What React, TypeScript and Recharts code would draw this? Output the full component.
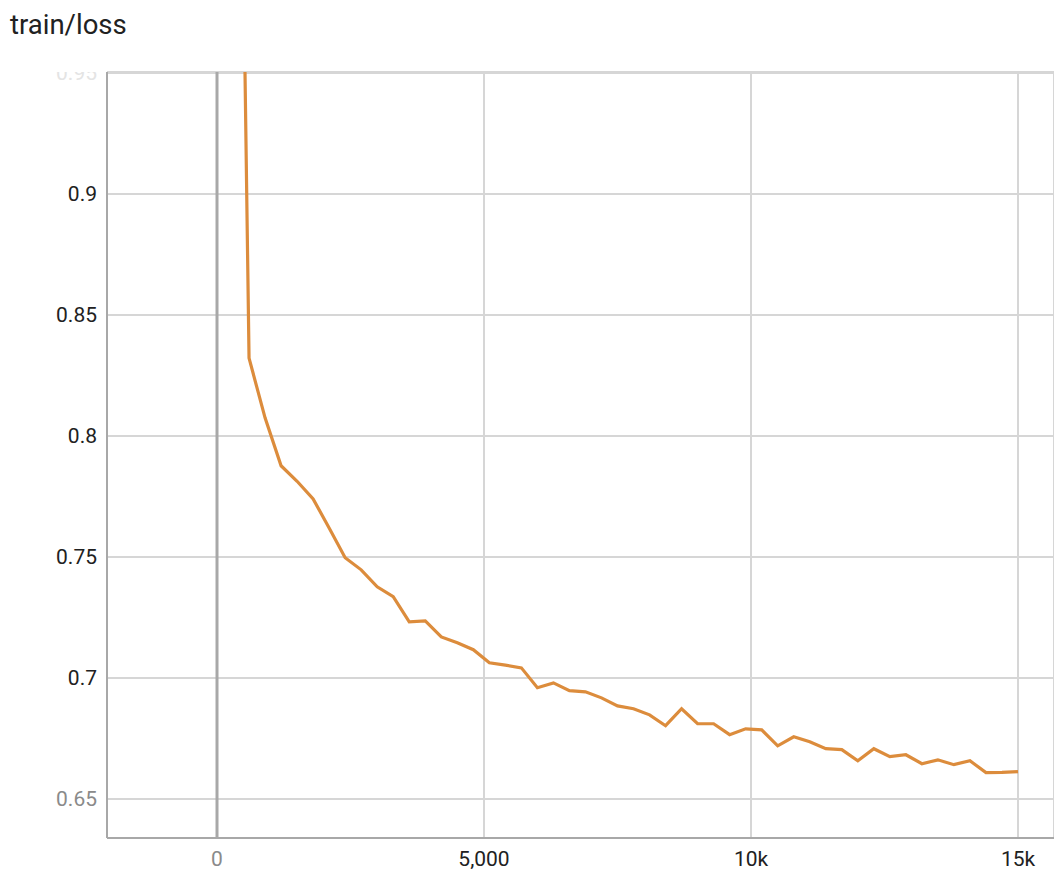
import { LineChart, Line, XAxis, YAxis, CartesianGrid, ReferenceLine } from 'recharts';

// logged every 300 steps
const steps = [
  300, 600, 900, 1200, 1500, 1800, 2100, 2400, 2700, 3000,
  3300, 3600, 3900, 4200, 4500, 4800, 5100, 5400, 5700, 6000,
  6300, 6600, 6900, 7200, 7500, 7800, 8100, 8400, 8700, 9000,
  9300, 9600, 9900, 10200, 10500, 10800, 11100, 11400, 11700, 12000,
  12300, 12600, 12900, 13200, 13500, 13800, 14100, 14400, 14700, 15000,
];

const loss = [
  1.3, 0.8322, 0.8075, 0.7877, 0.7813, 0.774, 0.762, 0.7497, 0.7447, 0.7377,
  0.7336, 0.7232, 0.7236, 0.717, 0.7146, 0.7117, 0.7063, 0.7053, 0.7042, 0.696,
  0.698, 0.6948, 0.6943, 0.6918, 0.6885, 0.6873, 0.6848, 0.6803, 0.6873, 0.6811,
  0.6811, 0.6766, 0.679, 0.6786, 0.672, 0.6757, 0.6737, 0.6708, 0.6704, 0.6658,
  0.6708, 0.6675, 0.6683, 0.6646, 0.6662, 0.6642, 0.6658, 0.6609, 0.661, 0.6613,
];

const yTicks = [0.65, 0.7, 0.75, 0.8, 0.85, 0.9, 0.95];
const xTicks = [0, 5000, 10000, 15000];
const xLabels = ['0', '5,000', '10k', '15k'];

const data = steps.map((step, i) => ({ step, loss: loss[i] }));

const FONT = 'Roboto, "Noto Sans", sans-serif';

function YTick(props: any) {
  const { x, y, payload } = props;
  const v = payload.value;
  let fill = '#212121';
  if (v === 0.65) fill = '#8a8a8a';
  if (v === 0.95) fill = '#e4e4e4';
  return (
    <g>
      <defs>
        <clipPath id="ytop-clip">
          <rect x={0} y={72} width={107} height={800} />
        </clipPath>
      </defs>
      <text
        x={x}
        y={y}
        dy="0.355em"
        textAnchor="end"
        fill={fill}
        fontSize={21}
        fontFamily={FONT}
        clipPath={v === 0.95 ? 'url(#ytop-clip)' : undefined}
      >
        {String(v)}
      </text>
    </g>
  );
}

function XTick(props: any) {
  const { x, y, payload } = props;
  const i = xTicks.indexOf(payload.value);
  return (
    <text
      x={x}
      y={y}
      dy="0.71em"
      textAnchor="middle"
      fill={payload.value === 0 ? '#8a8a8a' : '#212121'}
      fontSize={21}
      fontFamily={FONT}
    >
      {xLabels[i]}
    </text>
  );
}

export default function App() {
  return (
    <div style={{ position: 'relative', width: 1054, height: 880, background: '#fff' }}>
      <style>{`body{margin:0}`}</style>
      <div
        style={{
          position: 'absolute',
          left: 10,
          top: 8,
          fontFamily: FONT,
          fontSize: 27.5,
          color: '#212121',
        }}
      >
        train/loss
      </div>
      <LineChart width={1054} height={880} data={data} margin={{ top: 72, right: 0, bottom: 0, left: 0 }}>
        <CartesianGrid stroke="#d6d6d6" strokeWidth={2} />
        <XAxis
          dataKey="step"
          type="number"
          domain={[-2060, 15674]}
          ticks={xTicks}
          allowDataOverflow
          height={42}
          stroke="#a8a8a8"
          strokeWidth={2}
          tickLine={false}
          tickSize={0}
          tickMargin={13}
          tick={<XTick />}
        />
        <YAxis
          type="number"
          domain={[0.6339, 0.9504]}
          ticks={yTicks}
          allowDataOverflow
          width={107}
          stroke="#a8a8a8"
          strokeWidth={2}
          tickLine={false}
          tickSize={0}
          tickMargin={10}
          tick={<YTick />}
        />
        <ReferenceLine x={0} stroke="#a8a8a8" strokeWidth={3} />
        <Line
          type="linear"
          dataKey="loss"
          stroke="#dc8c3c"
          strokeWidth={3.2}
          dot={false}
          isAnimationActive={false}
        />
      </LineChart>
    </div>
  );
}
